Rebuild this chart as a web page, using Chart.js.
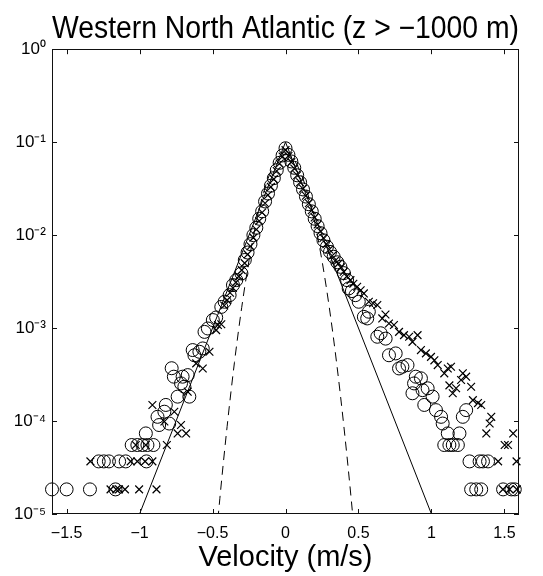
<!DOCTYPE html>
<html lang="en">
<head>
    <meta charset="UTF-8">
    <title>Western North Atlantic (z > -1000 m)</title>
    <script src="https://cdn.jsdelivr.net/npm/chart.js"></script>
    <style>
        body {
            margin: 0;
            padding: 0;
            background: #fff;
        }
        #wrap {
            width: 543px;
            height: 576px;
        }
    </style>
</head>
<body>
    <div id="wrap"><canvas id="pdfChart" width="543" height="576"></canvas></div>

    <script>
        // tick positions
        const xTicks = [-1.5, -1, -0.5, 0, 0.5, 1, 1.5];
        const yTicks = [1e-5, 1e-4, 1e-3, 1e-2, 1e-1, 1];

        // circles (first velocity component)
        const circleX = [
            -1.60, -1.50, -1.34, -1.165,
            -1.28, -1.245, -1.21, -1.14, -1.095, -0.953,
            -1.054, -1.015, -0.98, -0.946, -0.905,
            -0.957, -0.877, -0.866, -0.83, -0.82, -0.797, -0.78, -0.765,
            -0.739, -0.716, -0.705, -0.693, -0.67, -0.659, -0.636, -0.624,
            -0.59, -0.567, -0.555, -0.532, -0.498, -0.475, -0.44, -0.417,
            -0.383, -0.36, -0.337, -0.302, -0.279, -0.26,
            -0.24, -0.22, -0.20, -0.18, -0.16, -0.14, -0.12, -0.10, -0.08, -0.06, -0.04, -0.02,
            0, 0.02, 0.04, 0.06, 0.08, 0.10, 0.12, 0.14, 0.16, 0.18, 0.20, 0.22, 0.24, 0.26,
            0.284, 0.305, 0.33, 0.355, 0.376, 0.40, 0.422, 0.433, 0.455, 0.479, 0.502,
            0.537, 0.56, 0.571, 0.629, 0.652, 0.686, 0.709, 0.755, 0.778, 0.801, 0.836,
            0.881, 0.87, 0.893, 0.928, 0.939, 0.951, 0.974, 1.008, 1.031, 1.066, 1.077,
            1.088, 1.112, 1.123, 1.146, 1.181, 1.192, 1.215, 1.238,
            1.261, 1.272, 1.307, 1.33, 1.341, 1.353, 1.388, 1.491, 1.548, 1.571
        ];
        const circleY = [
            1.84e-5, 1.84e-5, 1.84e-5, 1.84e-5,
            3.68e-5, 3.68e-5, 3.68e-5, 3.68e-5, 3.68e-5, 3.68e-5,
            5.52e-5, 5.52e-5, 5.52e-5, 5.52e-5, 5.52e-5,
            7.36e-5, 1.11e-4, 9.06e-5, 1.26e-4, 1.49e-4, 9.4e-5, 3.7e-4, 3.0e-4,
            1.83e-4, 2.54e-4, 3.0e-4, 2.34e-4, 3.12e-4, 1.83e-4, 5.8e-4, 5.1e-4,
            5.56e-4, 6.04e-4, 9.1e-4, 9.9e-4, 1.22e-3, 1.3e-3, 1.69e-3, 1.92e-3,
            2.26e-3, 2.9e-3, 3.28e-3, 3.87e-3, 5.4e-3, 6.5e-3,
            8.0e-3, 1.0e-2, 1.2e-2, 1.5e-2, 1.8e-2, 2.3e-2, 2.8e-2, 3.4e-2, 4.1e-2, 5.0e-2, 6.0e-2, 7.2e-2,
            8.6e-2, 7.3e-2, 6.2e-2, 5.3e-2, 4.4e-2, 3.7e-2, 3.1e-2, 2.6e-2, 2.15e-2, 1.8e-2, 1.5e-2, 1.25e-2, 1.05e-2, 8.8e-3,
            7.5e-3, 6.6e-3, 5.85e-3, 5.1e-3, 4.56e-3, 3.9e-3, 3.28e-3, 2.67e-3, 2.5e-3, 2.26e-3, 1.92e-3,
            1.32e-3, 1.27e-3, 1.5e-3, 8.07e-4, 8.8e-4, 7.7e-4, 5.1e-4, 5.34e-4, 3.68e-4, 3.84e-4, 4.0e-4,
            2.54e-4, 1.99e-4, 3.0e-4, 2.88e-4, 2.15e-4, 1.49e-4, 2.25e-4, 1.83e-4, 1.31e-4, 1.11e-4, 9.4e-5,
            5.52e-5, 7.36e-5, 5.52e-5, 5.52e-5, 5.52e-5, 7.36e-5, 1.11e-4, 1.31e-4,
            3.68e-5, 1.84e-5, 1.84e-5, 3.68e-5, 1.84e-5, 3.68e-5, 3.68e-5, 1.84e-5, 1.84e-5, 1.84e-5
        ];

        // crosses (second velocity component)
        const crossX = [
            -1.199, -1.16, -1.141, -1.10, -1.003, -0.884,
            -1.337, -1.061, -1.015, -0.962, -0.912,
            -1.026, -0.957, -0.813,
            -0.739, -0.681, -0.716, -0.83, -0.762, -0.912, -0.67,
            -0.612, -0.567, -0.521, -0.475, -0.463, -0.44,
            -0.42, -0.40, -0.38, -0.36, -0.34, -0.32, -0.30, -0.28, -0.26,
            -0.24, -0.22, -0.20, -0.18, -0.16, -0.14, -0.12, -0.10, -0.08, -0.06, -0.04, -0.02,
            0, 0.02, 0.04, 0.06, 0.08, 0.10, 0.12, 0.14, 0.16, 0.18, 0.20, 0.22, 0.24, 0.26,
            0.28, 0.30, 0.32, 0.34,
            0.364, 0.38, 0.399, 0.42, 0.445, 0.465, 0.491, 0.515, 0.537, 0.571, 0.60, 0.629,
            0.663, 0.685, 0.709, 0.743, 0.778, 0.812, 0.847, 0.87, 0.905, 0.928, 0.962, 0.997,
            1.02, 1.043, 1.088, 1.112, 1.123, 1.134, 1.146, 1.169, 1.203, 1.215, 1.238,
            1.272, 1.284, 1.319, 1.341, 1.376, 1.399, 1.41,
            1.457, 1.502, 1.525, 1.56, 1.583, 1.49, 1.535, 1.585
        ];
        const crossY = [
            1.84e-5, 1.84e-5, 1.84e-5, 1.84e-5, 1.84e-5, 1.84e-5,
            3.68e-5, 3.68e-5, 3.68e-5, 3.68e-5, 3.68e-5,
            5.52e-5, 5.52e-5, 5.52e-5,
            7.36e-5, 7.36e-5, 9.06e-5, 9.9e-5, 1.26e-4, 1.49e-4, 2.07e-4,
            4.17e-4, 3.68e-4, 5.56e-4, 9.5e-4, 1.08e-3, 1.1e-3,
            1.75e-3, 2.0e-3, 2.4e-3, 2.7e-3, 3.1e-3, 3.6e-3, 4.2e-3, 5.0e-3, 6.2e-3,
            7.6e-3, 9.4e-3, 1.15e-2, 1.42e-2, 1.75e-2, 2.2e-2, 2.7e-2, 3.3e-2, 4.0e-2, 4.9e-2, 5.9e-2, 7.0e-2,
            8.2e-2, 7.1e-2, 6.1e-2, 5.2e-2, 4.4e-2, 3.7e-2, 3.15e-2, 2.65e-2, 2.2e-2, 1.85e-2, 1.55e-2, 1.3e-2, 1.1e-2, 9.3e-3,
            8.0e-3, 7.0e-3, 6.0e-3, 5.3e-3,
            4.97e-3, 4.5e-3, 4.03e-3, 3.6e-3, 3.28e-3, 3.0e-3, 2.78e-3, 2.55e-3, 2.36e-3, 1.92e-3, 1.85e-3, 1.77e-3,
            1.27e-3, 1.4e-3, 1.12e-3, 1.08e-3, 9.1e-4, 8.4e-4, 8.07e-4, 7.1e-4, 8.4e-4, 5.8e-4, 5.34e-4, 4.9e-4,
            4.5e-4, 4.0e-4, 3.26e-4, 3.68e-4, 2.42e-4, 3.84e-4, 1.99e-4, 2.25e-4, 2.76e-4, 3.26e-4, 3.0e-4,
            2.34e-4, 1.68e-4, 1.56e-4, 1.49e-4, 7.36e-5, 9.4e-5, 1.11e-4,
            3.68e-5, 5.52e-5, 5.52e-5, 7.36e-5, 3.68e-5, 1.84e-5, 1.84e-5, 1.84e-5
        ];

        // exponential fit (solid)
        const expX = [-1, 0, 1];
        const expY = [1e-5, 0.1, 1e-5];

        // gaussian fit (dashed)
        const gaussX = [-0.5, -0.45, -0.4, -0.35, -0.3, -0.25, -0.2, -0.15, -0.1, -0.05, 0,
                        0.05, 0.1, 0.15, 0.2, 0.25, 0.3, 0.35, 0.4, 0.45, 0.5];
        const gaussY = [1.97e-6, 1.46e-5, 8.75e-5, 4.25e-4, 1.67e-3, 5.32e-3, 1.374e-2, 2.87e-2, 4.86e-2, 6.67e-2, 7.41e-2,
                        6.67e-2, 4.86e-2, 2.87e-2, 1.374e-2, 5.32e-3, 1.67e-3, 4.25e-4, 8.75e-5, 1.46e-5, 1.97e-6];

        const pairs = (xs, ys) => xs.map((v, i) => ({x: v, y: ys[i]}));

        const supers = {'-': '⁻', '0': '⁰', '1': '¹', '2': '²', '3': '³', '4': '⁴', '5': '⁵'};
        function powLabel(v) {
            const e = String(Math.round(Math.log10(v)));
            return '10' + e.split('').map(c => supers[c]).join('');
        }

        // box round the axes and inward ticks, like matlab
        const axesBox = {
            id: 'axesBox',
            afterDatasetsDraw(chart) {
                const {ctx, chartArea: a, scales} = chart;
                const tl = 5;
                ctx.save();
                ctx.strokeStyle = '#111';
                ctx.lineWidth = 1;
                ctx.strokeRect(Math.round(a.left) + 0.5, Math.round(a.top) + 0.5,
                               Math.round(a.width) - 1, Math.round(a.height) - 1);
                ctx.beginPath();
                xTicks.forEach(v => {
                    const p = Math.round(scales.x.getPixelForValue(v)) + 0.5;
                    ctx.moveTo(p, a.bottom); ctx.lineTo(p, a.bottom - tl);
                    ctx.moveTo(p, a.top); ctx.lineTo(p, a.top + tl);
                });
                yTicks.forEach(v => {
                    const p = Math.round(scales.y.getPixelForValue(v)) + 0.5;
                    ctx.moveTo(a.left, p); ctx.lineTo(a.left + tl, p);
                    ctx.moveTo(a.right, p); ctx.lineTo(a.right - tl, p);
                });
                ctx.stroke();
                ctx.restore();
            }
        };

        Chart.defaults.font.family = "'Liberation Sans', Arial, Helvetica, sans-serif";
        Chart.defaults.color = '#000';

        new Chart(document.getElementById('pdfChart'), {
            type: 'scatter',
            data: {
                datasets: [{
                    label: 'u',
                    data: pairs(circleX, circleY),
                    pointStyle: 'circle',
                    pointRadius: 6.5,
                    backgroundColor: 'rgba(0,0,0,0)',
                    borderColor: '#000',
                    borderWidth: 1,
                    clip: 8
                }, {
                    label: 'v',
                    data: pairs(crossX, crossY),
                    pointStyle: 'crossRot',
                    pointRadius: 5.5,
                    borderColor: '#000',
                    borderWidth: 1.2,
                    clip: 8
                }, {
                    label: 'exponential',
                    data: pairs(expX, expY),
                    showLine: true,
                    pointRadius: 0,
                    borderColor: '#000',
                    borderWidth: 1
                }, {
                    label: 'gaussian',
                    data: pairs(gaussX, gaussY),
                    showLine: true,
                    pointRadius: 0,
                    borderColor: '#000',
                    borderWidth: 1,
                    borderDash: [9, 6],
                    cubicInterpolationMode: 'monotone'
                }]
            },
            options: {
                responsive: false,
                animation: false,
                devicePixelRatio: 1,
                layout: { padding: { left: 0, right: 24, top: 0, bottom: 0 } },
                plugins: {
                    legend: { display: false },
                    tooltip: { enabled: false },
                    title: {
                        display: true,
                        fullSize: false,
                        text: 'Western North Atlantic (z > −1000 m)',
                        color: '#000',
                        font: { size: 31, weight: 'normal' },
                        padding: { top: 11, bottom: 1 }
                    }
                },
                scales: {
                    x: {
                        type: 'linear',
                        min: -1.6,
                        max: 1.6,
                        afterBuildTicks: s => { s.ticks = xTicks.map(v => ({value: v})); },
                        afterFit: s => { s.height = 62; },
                        grid: { display: false, drawTicks: false },
                        border: { display: false },
                        ticks: {
                            padding: 10,
                            font: { size: 16 },
                            maxRotation: 0,
                            callback: v => (v < 0 ? '−' + Math.abs(v) : String(v))
                        },
                        title: {
                            display: true,
                            text: 'Velocity (m/s)',
                            font: { size: 29 },
                            padding: { top: 0, bottom: 1 }
                        }
                    },
                    y: {
                        type: 'logarithmic',
                        min: 1e-5,
                        max: 1,
                        afterBuildTicks: s => { s.ticks = yTicks.map(v => ({value: v})); },
                        afterFit: s => { s.width = 52; },
                        grid: { display: false, drawTicks: false },
                        border: { display: false },
                        ticks: {
                            padding: 6,
                            font: { size: 17 },
                            callback: v => powLabel(v)
                        }
                    }
                }
            },
            plugins: [axesBox]
        });
    </script>
</body>
</html>
